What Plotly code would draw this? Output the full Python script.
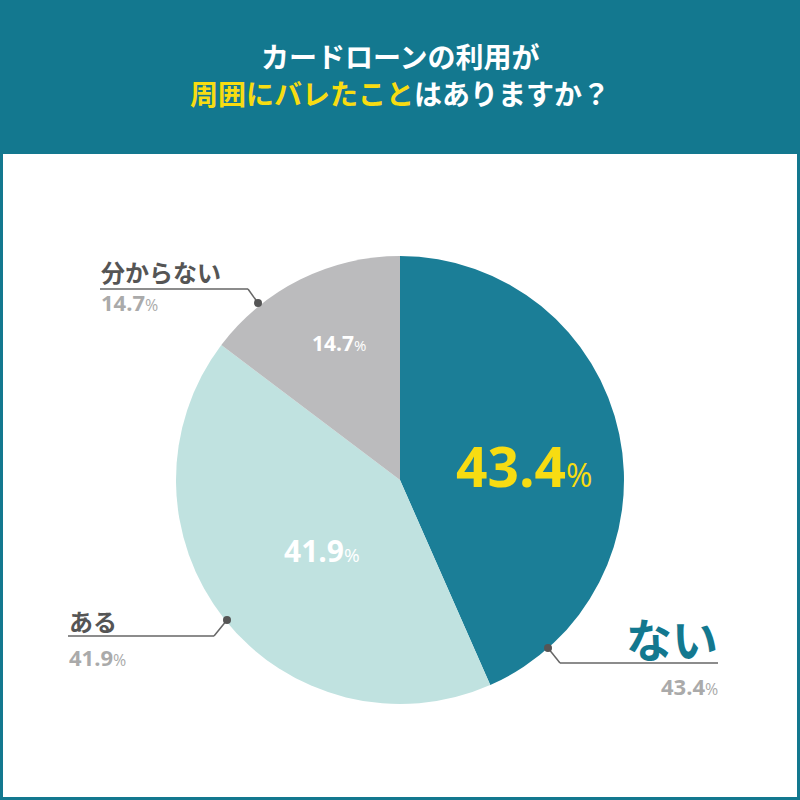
import plotly.graph_objects as go

# data
labels = ["ない", "ある", "分からない"]
values = [43.4, 41.9, 14.7]
colors = ["#1B7E97", "#C0E2E0", "#BBBBBD"]

title_line1 = "カードローンの利用が"
title_hl = "周囲にバレたこと"
title_rest = "はありますか？"

TEAL = "#13788F"
YELLOW = "#F7DC12"
JP = "Noto Sans CJK JP"
NUM = "Open Sans"

W = H = 800


def px(x):
    return x / W


def py(y):
    return 1 - y / H


fig = go.Figure()
fig.add_trace(go.Pie(
    labels=labels,
    values=values,
    sort=False,
    direction="clockwise",
    rotation=0,
    marker=dict(colors=colors, line=dict(width=0)),
    textinfo="none",
    hoverinfo="label+percent",
    showlegend=False,
    domain=dict(x=[px(176), px(624)], y=[py(704), py(256)]),
))

shapes = []
# white panel inside teal frame
shapes.append(dict(type="rect", xref="paper", yref="paper",
                   x0=px(3), x1=px(797), y0=py(797), y1=py(154),
                   fillcolor="white", line=dict(width=0), layer="below"))

annots = []


def note(text, x, y, size, color, family, xanchor="center"):
    annots.append(dict(text=text, x=px(x), y=py(y), xref="paper", yref="paper",
                       xanchor=xanchor, yanchor="middle", showarrow=False,
                       font=dict(family=family, size=size, color=color)))


# title
note("<b>%s</b>" % title_line1, 400, 56, 28, "white", JP)
note("<b><span style='color:%s'>%s</span>%s</b>" % (YELLOW, title_hl, title_rest),
     400, 93, 28, "white", JP)


def pct(v, small):
    return "<b>%s</b><span style='font-size:%dpx'>%%</span>" % (v, small)


# inside values
inside = [(524, 465, 55, 32, YELLOW), (322, 550, 30, 19, "white"), (339, 343, 21, 15, "white")]
for v, (x, y, s1, s2, c) in zip(values, inside):
    note(pct(v, s2), x, y, s1, c, NUM)

# outside labels with leader lines
callouts = [
    # label, value, text x, anchor, label y, value y, line y, line x start, line x end, dot x, dot y, size, colour
    (labels[2], values[2], 99, "left", 271, 302, 289, 100, 248, 258, 303, 24, "#555555"),
    (labels[1], values[1], 67, "left", 620, 657, 636, 68, 214, 227, 620, 24, "#555555"),
    (labels[0], values[0], 720, "right", 637, 686, 663, 718, 560, 548, 648, 46, TEAL),
]
for lab, v, tx, side, ly, vy, liney, lx0, lx1, dx, dy, fs, fc in callouts:
    note("<b>%s</b>" % lab, tx, ly, fs, fc, JP, side)
    note(pct(v, 16), tx, vy, 22, "#AAAAAA", NUM, side)
    shapes.append(dict(type="line", xref="paper", yref="paper",
                       x0=px(lx0), x1=px(lx1), y0=py(liney), y1=py(liney),
                       line=dict(color="#666666", width=1.5)))
    shapes.append(dict(type="line", xref="paper", yref="paper",
                       x0=px(lx1), x1=px(dx), y0=py(liney), y1=py(dy),
                       line=dict(color="#666666", width=1.5)))
    shapes.append(dict(type="circle", xref="paper", yref="paper",
                       x0=px(dx - 4), x1=px(dx + 4), y0=py(dy + 4), y1=py(dy - 4),
                       fillcolor="#555555", line=dict(width=0)))

fig.update_layout(
    width=W, height=H,
    margin=dict(l=0, r=0, t=0, b=0),
    paper_bgcolor=TEAL,
    shapes=shapes,
    annotations=annots,
)

# drop the default page margin so the 800x800 figure fills the window
fig.write_html("out.html", config={"displayModeBar": False},
               post_script="document.body.style.margin='0';")
